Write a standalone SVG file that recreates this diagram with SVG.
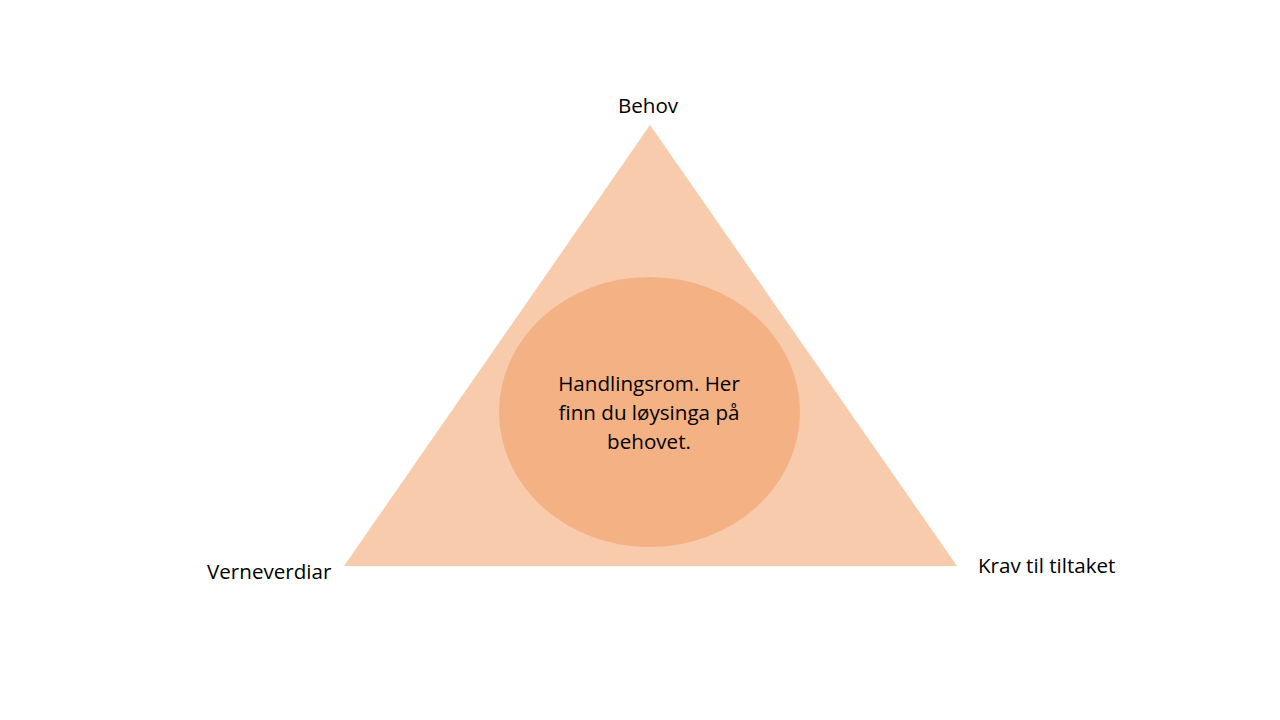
<svg xmlns="http://www.w3.org/2000/svg" width="1280" height="720" viewBox="0 0 1280 720">
<style>
text{font-family:"Open Sans","Noto Sans","Liberation Sans",sans-serif;font-size:20.6px;fill:#000}
</style>
<rect width="1280" height="720" fill="#fff"/>
<g id="triangle"><polygon points="650,125 344,566 957,566" fill="#F8CBAD"/></g>
<g id="center"><ellipse cx="649.5" cy="412" rx="150.5" ry="135" fill="#F4B183"/>
<text text-anchor="middle" x="649" y="391">Handlingsrom. Her</text>
<text text-anchor="middle" x="649" y="420">finn du løysinga på</text>
<text text-anchor="middle" x="649" y="449">behovet.</text></g>
<g id="behov"><text text-anchor="middle" x="648" y="113">Behov</text></g>
<g id="verneverdiar"><text x="207" y="579">Verneverdiar</text></g>
<g id="krav"><text x="978" y="573">Krav til tiltaket</text></g>
<g id="connectors"/>
</svg>
